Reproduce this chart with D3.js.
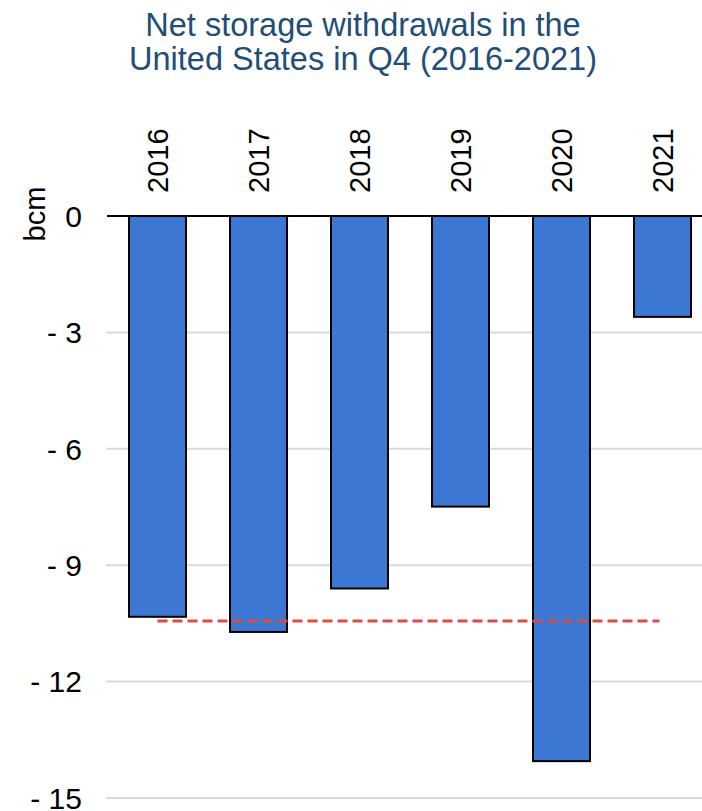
<!DOCTYPE html>
<html>
<head>
<meta charset="utf-8">
<script src="https://cdn.jsdelivr.net/npm/d3@7"></script>
<style>
  body { margin: 0; background: #fff; }
  text { font-family: "Liberation Sans", Arial, sans-serif; }
</style>
</head>
<body>
<div id="chart"></div>
<script>
// data
const years = ["2016", "2017", "2018", "2019", "2020", "2021"];
const withdrawals = [-10.33, -10.72, -9.6, -7.49, -14.05, -2.6];
const fiveYearAvg = -10.44;
const yTicks = [0, -3, -6, -9, -12, -15];
const titleLines = ["Net storage withdrawals in the", "United States in Q4 (2016-2021)"];

const width = 702, height = 811;

const svg = d3.select("#chart").append("svg")
    .attr("width", width)
    .attr("height", height);

const x = d3.scaleBand()
    .domain(years)
    .range([107, 713])
    .paddingInner(0.436)
    .paddingOuter(0.218);

const y = d3.scaleLinear()
    .domain([0, -15])
    .range([216, 798]);

// title
svg.append("g").selectAll("text")
    .data(titleLines)
    .join("text")
    .attr("x", 363)
    .attr("y", (d, i) => 36 + i * 34)
    .attr("text-anchor", "middle")
    .style("font-size", "32.5px")
    .style("fill", "#1F4E79")
    .text(d => d);

// gridlines
svg.append("g").selectAll("line")
    .data(yTicks.filter(d => d !== 0))
    .join("line")
    .attr("x1", 106)
    .attr("x2", width)
    .attr("y1", d => y(d))
    .attr("y2", d => y(d))
    .style("stroke", "#d9d9d9")
    .style("stroke-width", 2);

// y axis labels
const yAxis = d3.axisLeft(y)
    .tickValues(yTicks)
    .tickSize(0)
    .tickPadding(0)
    .tickFormat(d => d === 0 ? "0" : "- " + Math.abs(d));

svg.append("g")
    .attr("transform", "translate(82,0)")
    .call(yAxis)
    .call(g => g.select(".domain").remove())
    .selectAll("text")
    .attr("dy", "0.34em")
    .style("font-size", "30px")
    .style("font-family", "'Liberation Sans', Arial, sans-serif")
    .style("fill", "#000");

// unit label
svg.append("text")
    .attr("transform", "translate(45,214) rotate(-90)")
    .attr("text-anchor", "middle")
    .style("font-size", "29px")
    .text("bcm");

// bars
svg.append("g").selectAll("rect")
    .data(withdrawals)
    .join("rect")
    .attr("x", (d, i) => x(years[i]))
    .attr("y", y(0))
    .attr("width", x.bandwidth())
    .attr("height", d => y(d) - y(0))
    .style("fill", "#3C78D3")
    .style("stroke", "#000")
    .style("stroke-width", 2);

// zero line
svg.append("line")
    .attr("x1", 107)
    .attr("x2", width)
    .attr("y1", y(0))
    .attr("y2", y(0))
    .style("stroke", "#000")
    .style("stroke-width", 2);

// five-year average
svg.append("line")
    .attr("x1", x(years[0]) + x.bandwidth() / 2)
    .attr("x2", x(years[years.length - 1]) + x.bandwidth() / 2 - 3)
    .attr("y1", y(fiveYearAvg))
    .attr("y2", y(fiveYearAvg))
    .style("stroke", "#E04B3F")
    .style("stroke-width", 3)
    .style("stroke-dasharray", "10,5");

// year labels on top
const xAxis = d3.axisTop(x).tickSize(0).tickPadding(0);
svg.append("g")
    .attr("transform", "translate(0,193)")
    .call(xAxis)
    .call(g => g.select(".domain").remove())
    .selectAll("text")
    .attr("transform", "rotate(-90)")
    .attr("x", 0)
    .attr("y", 0)
    .attr("dx", 0)
    .attr("dy", "0.36em")
    .attr("text-anchor", "start")
    .style("font-size", "29px")
    .style("font-family", "'Liberation Sans', Arial, sans-serif")
    .style("fill", "#000");
</script>
</body>
</html>
